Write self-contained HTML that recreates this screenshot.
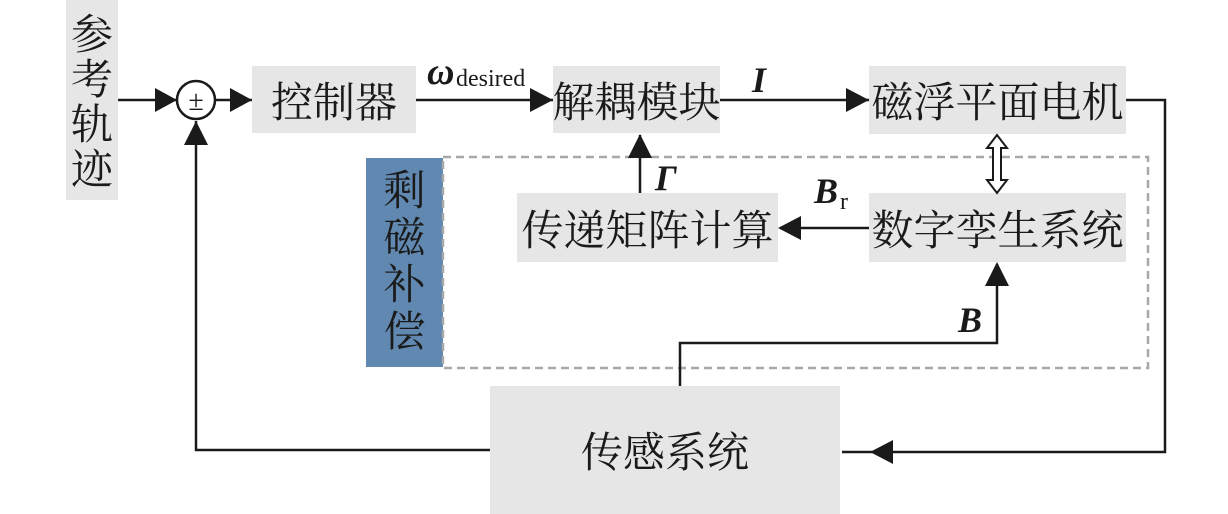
<!DOCTYPE html>
<html><head><meta charset="utf-8"><style>
body{margin:0;width:1228px;height:514px;background:#fff;position:relative;overflow:hidden;font-family:"Liberation Serif","Noto Serif CJK SC",serif;color:#1a1a1a}
.b{position:absolute;background:#e6e6e6;display:flex;align-items:center;justify-content:center;font-size:42px;letter-spacing:0px;white-space:nowrap}
.v{flex-direction:column;line-height:45px}
</style></head><body>
<div class="b v" style="left:66px;top:0;width:52px;height:200px;padding-top:8px;box-sizing:border-box">参<br>考<br>轨<br>迹</div>
<div class="b" style="left:252px;top:66px;width:164px;height:67px">控制器</div>
<div class="b" style="left:553px;top:66px;width:167px;height:67px">解耦模块</div>
<div class="b" style="left:869px;top:66px;width:257px;height:68px">磁浮平面电机</div>
<div class="b" style="left:517px;top:193px;width:261px;height:69px">传递矩阵计算</div>
<div class="b" style="left:869px;top:193px;width:257px;height:69px">数字孪生系统</div>
<div class="b" style="left:490px;top:386px;width:350px;height:128px">传感系统</div>
<div class="b v" style="left:366px;top:158px;width:77px;height:209px;background:#6088b0;line-height:47px">剩<br>磁<br>补<br>偿</div>
<svg width="1228" height="514" style="position:absolute;left:0;top:0">
<rect x="443" y="157" width="705" height="211" fill="none" stroke="#a8a8a8" stroke-width="2.5" stroke-dasharray="8,5"/>
<g stroke="#1a1a1a" stroke-width="2.5" fill="none">
<line x1="118" y1="100" x2="177" y2="100"/>
<line x1="215" y1="100" x2="252" y2="100"/>
<line x1="416" y1="100" x2="553" y2="100"/>
<line x1="720" y1="100" x2="869" y2="100"/>
<line x1="640" y1="193" x2="640" y2="135"/>
<line x1="869" y1="228" x2="780" y2="228"/>
<polyline points="680,386 680,343 997,343 997,264"/>
<polyline points="1126,100 1165,100 1165,452 842,452"/>
<polyline points="490,450 196,450 196,121"/>
</g>
<g fill="#1a1a1a">
<path d="M155,88L177,100L155,112z"/>
<path d="M230,88L252,100L230,112z"/>
<path d="M530,88L553,100L530,112z"/>
<path d="M846,88L869,100L846,112z"/>
<path d="M628,158L640,134L652,158z"/>
<path d="M801,216L778,228L801,240z"/>
<path d="M985,286L997,262L1009,286z"/>
<path d="M893,440L870,452L893,464z"/>
<path d="M184,145L196,121L208,145z"/>
</g>
<circle cx="196" cy="100" r="19" fill="#fff" stroke="#1a1a1a" stroke-width="2.5"/>
<text x="196" y="110" font-size="28" text-anchor="middle" font-family="Liberation Serif" fill="#1a1a1a">±</text>
<path d="M997,135L987,148L993,148L993,180L987,180L997,193L1007,180L1001,180L1001,148L1007,148Z" fill="#fff" stroke="#1a1a1a" stroke-width="2"/>
<g font-family="Liberation Serif" font-weight="bold" font-style="italic" fill="#1a1a1a">
<text x="427" y="84" font-size="38">ω</text>
<text x="752" y="92" font-size="36">I</text>
<text x="655" y="190" font-size="36">Γ</text>
<text x="814" y="203" font-size="36">B</text>
<text x="958" y="332" font-size="36">B</text>
</g>
<text x="456" y="86" font-size="24" font-family="Liberation Serif" fill="#1a1a1a">desired</text>
<text x="840" y="209" font-size="24" font-family="Liberation Serif" fill="#1a1a1a">r</text>
</svg>
</body></html>
